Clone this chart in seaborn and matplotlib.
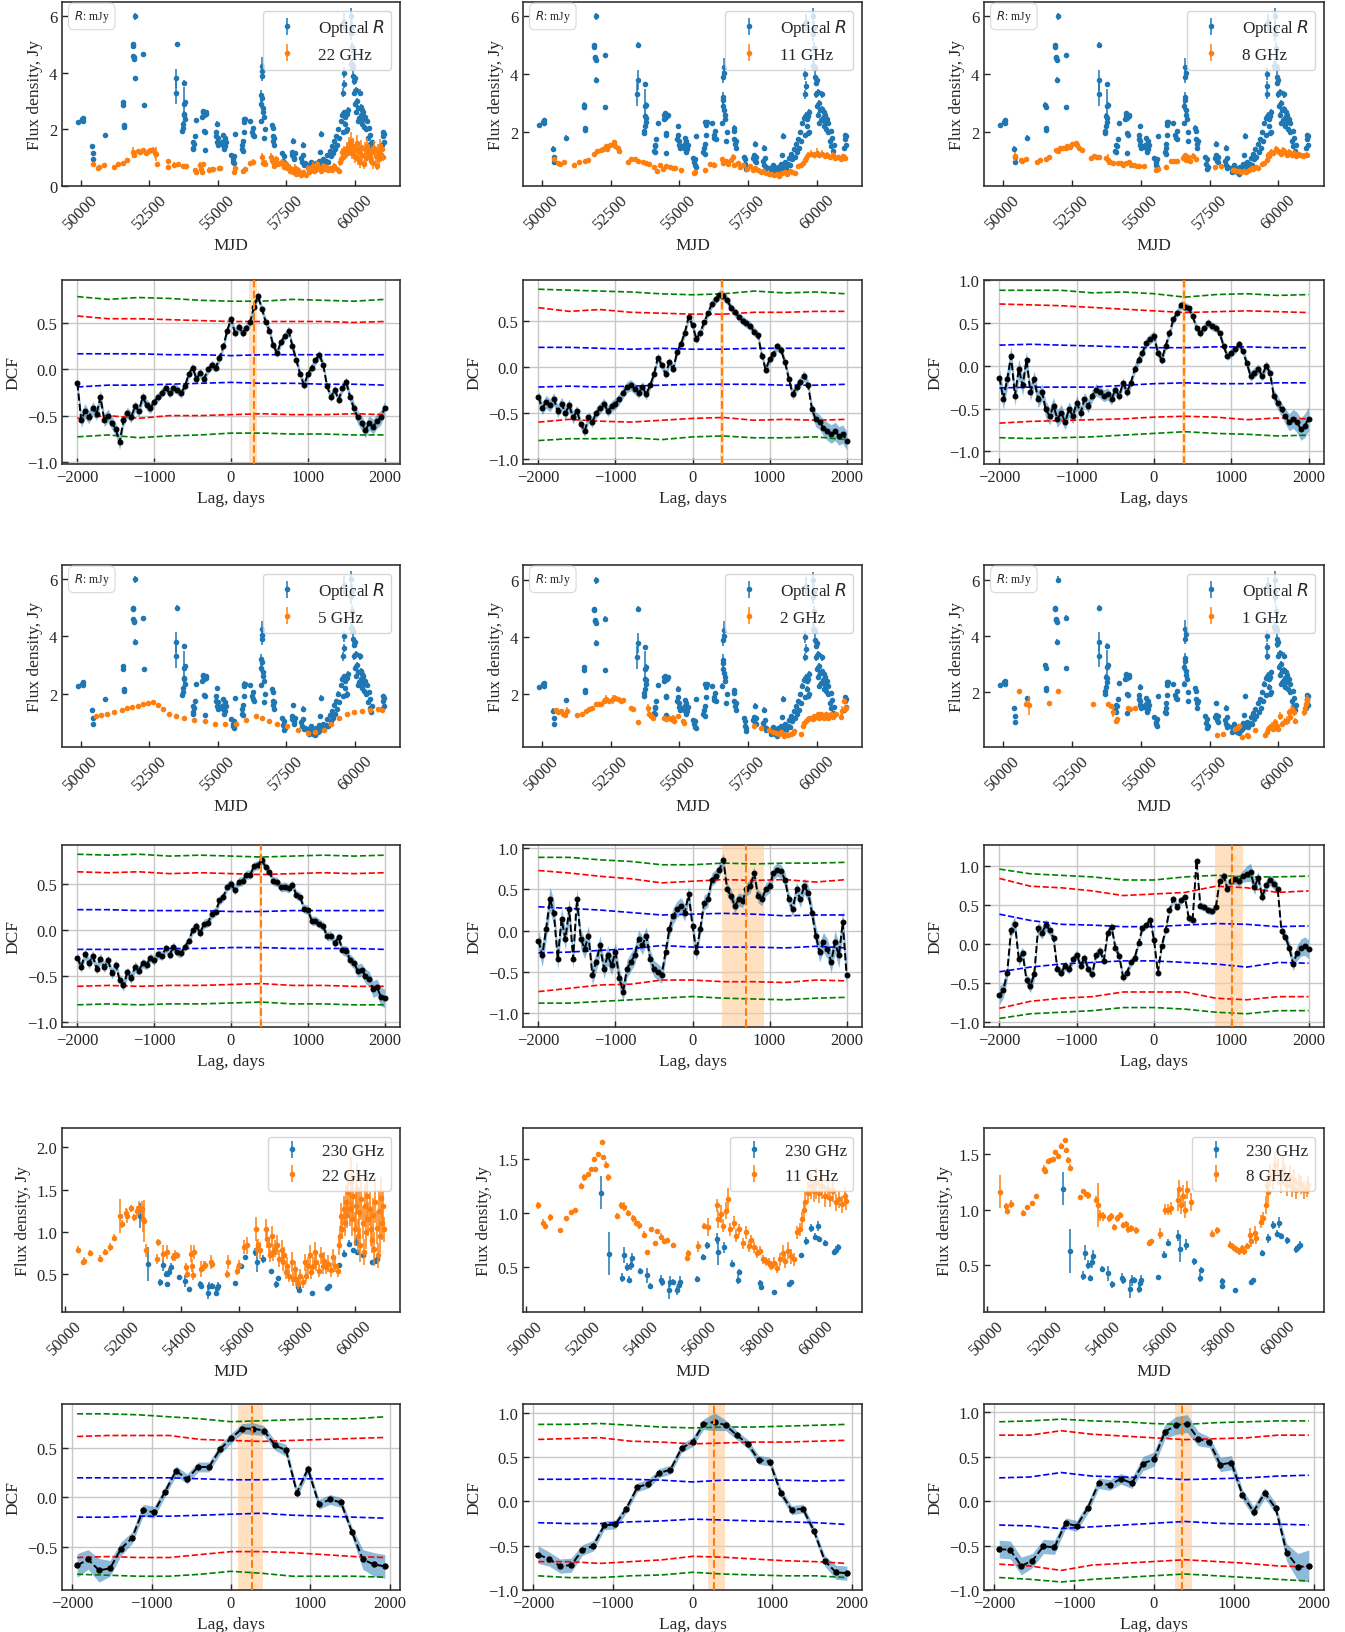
import numpy as np
import matplotlib
matplotlib.use("Agg")
import matplotlib.pyplot as plt
import seaborn as sns
from matplotlib.ticker import MultipleLocator

sns.set_style("ticks")
plt.rcParams.update({
    "mathtext.fontset": "dejavusans",
    "axes.linewidth": 1.2,
    "axes.edgecolor": "0.2",
    "xtick.direction": "in",
    "ytick.direction": "in",
    "xtick.labelsize": 12,
    "ytick.labelsize": 12,
    "axes.labelsize": 12.5,
    "legend.fontsize": 12.3,
})
plt.rcParams["font.family"] = ["Liberation Serif", "DejaVu Serif"]

# ---------------- light curves ----------------
opt_mjd = [49880, 50040, 50068, 50080, 50420, 50434, 50450, 50883, 51540, 51551,
           51560, 51570, 51890, 51900, 51920, 51940, 51960, 51975, 51985, 52282,
           52300, 53480, 53490, 53500, 53700, 53720, 53740, 53750, 53760, 53770,
           53780, 53790, 53800, 54080, 54100, 54110, 54130, 54160, 54213, 54430,
           54450, 54470, 54490, 54510, 54520, 54530, 54560, 54580, 54930, 54950,
           54960, 54975, 54990, 55010, 55170, 55190, 55200, 55220, 55240, 55260,
           55280, 55310, 55500, 55540, 55560, 55580, 55600, 55620, 55880, 55900,
           55920, 55935, 55950, 55960, 55970, 56000, 56180, 56250, 56280, 56300,
           56320, 56560, 56580, 56590, 56600, 56610, 56620, 56630, 56640, 56650,
           56670, 56700, 56730, 56980, 57000, 57010, 57030, 57050, 57070, 57350,
           57380, 57400, 57420, 57440, 57700, 57720, 57750, 57770, 57790, 57810,
           58050, 58080, 58100, 58120, 58140, 58170, 58300, 58330, 58366, 58400,
           58440, 58480, 58520, 58560, 58600, 58640, 58680, 58710, 58731, 58750,
           58770, 58800, 58840, 58880, 58950, 59000, 59040, 59080, 59120, 59160,
           59200, 59240, 59280, 59320, 59360, 59400, 59440, 59480, 59540, 59560,
           59580, 59590, 59600, 59610, 59620, 59640, 59660, 59680, 59700, 59720,
           59740, 59850, 59865, 59880, 59890, 59900, 59915, 59930, 59945, 59960,
           59980, 60000, 60020, 60040, 60060, 60080, 60100, 60120, 60160, 60190,
           60210, 60230, 60250, 60270, 60290, 60310, 60340, 60370, 60400, 60430,
           60480, 60510, 60540, 60570, 60600, 60630, 61000, 61020, 61040, 61060,
           61080]
opt_flux = [2.25, 2.35, 2.40, 2.30, 1.42, 1.15, 0.95, 1.80, 2.95, 2.85,
            2.15, 2.08, 5.00, 4.95, 4.60, 4.55, 4.50, 3.80, 6.00, 4.65,
            2.85, 3.30, 3.80, 5.00, 1.95, 2.05, 2.20, 2.55, 2.90, 3.65,
            2.50, 2.35, 2.95, 1.35, 1.55, 1.30, 1.50, 1.75, 2.32, 2.45,
            2.60, 2.65, 2.50, 1.95, 1.26, 1.90, 2.55, 2.60, 1.75, 1.90,
            2.20, 1.55, 1.70, 1.45, 1.55, 1.45, 1.80, 1.60, 1.30, 1.70,
            1.40, 1.55, 1.10, 0.95, 0.85, 1.05, 0.80, 1.85, 1.30, 1.45,
            1.60, 1.25, 2.35, 2.25, 1.90, 2.35, 2.30, 1.90, 1.80, 2.05,
            1.75, 2.30, 2.90, 3.20, 3.10, 3.90, 4.25, 4.05, 2.75, 2.60,
            2.45, 1.70, 2.00, 2.15, 1.75, 2.05, 1.60, 1.45, 1.70, 1.15,
            0.90, 1.05, 0.72, 0.80, 1.10, 1.20, 1.60, 1.00, 0.95, 1.15,
            1.00, 0.85, 1.45, 1.10, 0.75, 0.80, 0.75, 0.60, 0.65, 0.85,
            0.70, 0.60, 0.75, 0.55, 0.80, 0.65, 0.70, 0.90, 1.20, 0.75,
            1.85, 0.85, 0.95, 0.75, 0.90, 1.10, 0.85, 1.25, 1.05, 1.40,
            1.15, 1.60, 1.30, 1.75, 1.45, 2.00, 1.70, 2.30, 2.50, 1.90,
            3.30, 4.00, 3.60, 5.80, 2.60, 2.20, 2.45, 1.95, 2.55, 2.00,
            2.70, 4.30, 5.40, 6.00, 5.60, 4.90, 4.30, 3.90, 4.20, 3.70,
            3.30, 3.80, 2.90, 3.40, 2.60, 3.00, 2.30, 2.75, 2.40, 3.30,
            2.80, 2.50, 2.20, 2.70, 2.35, 2.60, 2.10, 2.45, 2.00, 2.30,
            1.70, 2.05, 1.50, 1.80, 1.35, 1.55, 1.45, 1.90, 1.75, 1.55,
            1.85]
opt_err = [0.05, 0.05, 0.05, 0.05, 0.08, 0.05, 0.05, 0.08, 0.08, 0.06,
           0.06, 0.06, 0.06, 0.06, 0.06, 0.06, 0.06, 0.10, 0.12, 0.08,
           0.05, 0.40, 0.35, 0.10, 0.06, 0.06, 0.08, 0.10, 0.60, 0.08,
           0.10, 0.08, 0.10, 0.05, 0.05, 0.05, 0.05, 0.05, 0.05, 0.06,
           0.06, 0.06, 0.06, 0.06, 0.05, 0.05, 0.06, 0.06, 0.06, 0.06,
           0.08, 0.05, 0.05, 0.05, 0.05, 0.05, 0.05, 0.05, 0.05, 0.05,
           0.05, 0.05, 0.05, 0.05, 0.05, 0.05, 0.05, 0.06, 0.05, 0.05,
           0.05, 0.05, 0.08, 0.08, 0.06, 0.06, 0.05, 0.05, 0.05, 0.05,
           0.05, 0.08, 0.15, 0.20, 0.15, 0.20, 0.30, 0.15, 0.15, 0.10,
           0.10, 0.05, 0.05, 0.08, 0.05, 0.06, 0.05, 0.05, 0.05, 0.05,
           0.05, 0.05, 0.05, 0.05, 0.05, 0.05, 0.08, 0.05, 0.05, 0.05,
           0.05, 0.05, 0.10, 0.05, 0.05, 0.05, 0.04, 0.04, 0.04, 0.04,
           0.04, 0.04, 0.04, 0.04, 0.04, 0.04, 0.04, 0.05, 0.06, 0.04,
           0.10, 0.05, 0.05, 0.05, 0.05, 0.05, 0.05, 0.06, 0.05, 0.06,
           0.05, 0.06, 0.05, 0.06, 0.06, 0.08, 0.06, 0.08, 0.10, 0.08,
           0.15, 0.20, 0.15, 0.30, 0.10, 0.08, 0.08, 0.08, 0.10, 0.08,
           0.10, 0.20, 0.25, 0.30, 0.25, 0.20, 0.15, 0.15, 0.15, 0.12,
           0.12, 0.12, 0.10, 0.10, 0.10, 0.10, 0.08, 0.10, 0.08, 0.12,
           0.10, 0.08, 0.08, 0.10, 0.08, 0.08, 0.08, 0.08, 0.06, 0.08,
           0.06, 0.06, 0.06, 0.06, 0.05, 0.05, 0.05, 0.06, 0.05, 0.05,
           0.06]

r22_mjd = [50443, 50617, 50660, 50849, 51198, 51373, 51547, 51687, 51896, 51954,
           52094, 52150, 52280, 52373, 52479, 52540, 52652, 52700, 52740, 52792,
           53176, 53200, 53398, 53530, 53734, 53790, 53850, 54165, 54200, 54340,
           54380, 54430, 54470, 54689, 54790, 54840, 55038, 55080, 55584, 55620,
           55933, 56000, 56166, 56280, 56607, 56640, 56680, 56740, 56956, 56990,
           57030, 57070, 57140, 57200, 57260, 57330, 57400, 57480, 57520, 57570,
           57620, 57680, 57740, 57829, 57870, 57940, 57990, 58030, 58100, 58236,
           58280, 58340, 58400, 58460, 58500, 58560, 58620, 58680, 58759, 58830,
           58900, 58960, 59020, 59100, 59180, 59260, 59340, 59434, 59470, 59500,
           59540, 59580, 59620, 59660, 59700, 59740, 59790, 59830, 59866, 59900,
           59950, 60000, 60040, 60080, 60120, 60160, 60200, 60240, 60280, 60320,
           60360, 60400, 60440, 60480, 60520, 60560, 60600, 60640, 60680, 60720,
           60760, 60800, 60840, 60880, 60920, 60960, 61000, 61028]
r22_flux = [0.79, 0.64, 0.66, 0.75, 0.68, 0.76, 0.82, 0.93, 1.19, 1.09,
            1.22, 1.19, 1.28, 1.17, 1.25, 1.28, 1.27, 1.15, 1.13, 0.78,
            0.68, 0.875, 0.74, 0.76, 0.70, 0.72, 0.72, 0.58, 0.50, 0.74,
            0.60, 0.49, 0.76, 0.56, 0.60, 0.61, 0.64, 0.62, 0.50, 0.64,
            0.54, 0.61, 0.82, 0.84, 1.03, 0.80, 0.84, 0.78, 1.03, 0.91,
            0.84, 0.72, 0.95, 0.76, 0.80, 0.84, 0.68, 0.78, 0.64, 0.72,
            0.52, 0.60, 0.48, 0.64, 0.44, 0.56, 0.44, 0.38, 0.48, 0.40,
            0.64, 0.48, 0.60, 0.72, 0.52, 0.60, 0.76, 0.64, 0.54, 0.72,
            0.60, 0.66, 0.58, 0.62, 0.55, 0.70, 0.60, 0.54, 0.84, 0.95,
            1.19, 1.03, 1.27, 1.10, 1.35, 1.20, 1.47, 1.27, 1.59, 1.15,
            1.43, 1.03, 1.31, 1.51, 0.95, 1.23, 0.84, 1.39, 1.11, 0.76,
            1.31, 1.00, 1.43, 1.15, 1.27, 1.03, 0.90, 1.20, 0.80, 1.35,
            1.05, 0.72, 1.25, 0.95, 1.40, 1.10, 1.30, 1.03]
r22_err = [0.04, 0.03, 0.04, 0.03, 0.04, 0.04, 0.05, 0.04, 0.20, 0.05,
           0.06, 0.08, 0.04, 0.04, 0.06, 0.08, 0.10, 0.15, 0.25, 0.08,
           0.06, 0.04, 0.10, 0.08, 0.05, 0.06, 0.04, 0.05, 0.05, 0.10,
           0.08, 0.06, 0.08, 0.10, 0.06, 0.05, 0.08, 0.05, 0.05, 0.08,
           0.05, 0.06, 0.08, 0.10, 0.14, 0.10, 0.08, 0.10, 0.12, 0.10,
           0.10, 0.08, 0.12, 0.10, 0.10, 0.12, 0.10, 0.12, 0.10, 0.10,
           0.08, 0.10, 0.08, 0.12, 0.08, 0.10, 0.08, 0.06, 0.08, 0.06,
           0.10, 0.08, 0.10, 0.12, 0.08, 0.10, 0.12, 0.10, 0.08, 0.10,
           0.10, 0.10, 0.08, 0.10, 0.08, 0.10, 0.08, 0.08, 0.12, 0.12,
           0.15, 0.12, 0.15, 0.15, 0.20, 0.15, 0.25, 0.20, 0.30, 0.20,
           0.25, 0.20, 0.25, 0.30, 0.20, 0.25, 0.20, 0.25, 0.20, 0.15,
           0.25, 0.20, 0.25, 0.20, 0.20, 0.20, 0.15, 0.20, 0.20, 0.25,
           0.20, 0.15, 0.25, 0.20, 0.25, 0.20, 0.20, 0.15]

r11_mjd = [50427, 50583, 50650, 50816, 51165, 51359, 51553, 51689, 51903, 52000,
           52136, 52233, 52330, 52380, 52485, 52621, 52660, 52757, 52815, 53146,
           53262, 53380, 53495, 53689, 53780, 53883, 54078, 54175, 54311, 54427,
           54500, 54660, 54757, 54850, 55049, 55534, 55590, 55922, 56117, 56272,
           56563, 56600, 56699, 56790, 56893, 56950, 57010, 57146, 57220, 57330,
           57476, 57570, 57670, 57760, 57864, 57960, 58058, 58150, 58253, 58350,
           58447, 58540, 58641, 58740, 58835, 58930, 59029, 59120, 59223, 59320,
           59420, 59515, 59560, 59612, 59700, 59806, 59900, 60000, 60100, 60194,
           60290, 60388, 60480, 60583, 60680, 60777, 60870, 60971, 61020]
r11_flux = [1.07, 0.91, 0.88, 0.96, 0.84, 0.95, 1.01, 1.03, 1.25, 1.33,
            1.36, 1.41, 1.50, 1.41, 1.55, 1.66, 1.52, 1.45, 1.33, 0.97,
            1.07, 1.06, 1.00, 0.95, 0.91, 0.89, 0.80, 0.64, 0.85, 0.72,
            0.83, 0.78, 0.74, 0.75, 0.70, 0.58, 0.63, 0.69, 0.88, 0.87,
            1.07, 0.94, 0.99, 0.88, 1.02, 1.13, 0.85, 0.91, 0.79, 0.85,
            0.72, 0.82, 0.69, 0.75, 0.68, 0.63, 0.65, 0.57, 0.55, 0.54,
            0.51, 0.54, 0.49, 0.57, 0.63, 0.55, 0.65, 0.60, 0.57, 0.82,
            0.85, 0.94, 1.03, 1.10, 1.19, 1.25, 1.20, 1.28, 1.19, 1.25,
            1.16, 1.22, 1.14, 1.20, 1.10, 1.13, 1.08, 1.16, 1.11]
r11_err = [0.03, 0.03, 0.03, 0.03, 0.02, 0.02, 0.02, 0.02, 0.03, 0.03,
           0.02, 0.02, 0.02, 0.02, 0.02, 0.02, 0.02, 0.03, 0.03, 0.03,
           0.03, 0.04, 0.03, 0.03, 0.03, 0.04, 0.03, 0.02, 0.02, 0.02,
           0.02, 0.03, 0.02, 0.02, 0.02, 0.03, 0.03, 0.05, 0.03, 0.08,
           0.06, 0.08, 0.08, 0.06, 0.08, 0.10, 0.06, 0.06, 0.06, 0.05,
           0.05, 0.06, 0.05, 0.05, 0.05, 0.05, 0.04, 0.04, 0.04, 0.04,
           0.04, 0.05, 0.05, 0.06, 0.07, 0.06, 0.08, 0.07, 0.06, 0.06,
           0.06, 0.07, 0.08, 0.10, 0.10, 0.12, 0.10, 0.15, 0.10, 0.12,
           0.10, 0.10, 0.08, 0.10, 0.08, 0.08, 0.08, 0.08, 0.08]

r8_mjd = [50447, 50641, 50700, 50835, 51223, 51359, 51553, 51689, 51942, 51990,
          52078, 52170, 52272, 52330, 52420, 52524, 52660, 52700, 52777, 52855,
          53204, 53301, 53398, 53480, 53748, 53825, 53883, 53980, 54175, 54270,
          54369, 54470, 54563, 54660, 54757, 54850, 54951, 55107, 55573, 55620,
          55922, 56117, 56200, 56311, 56544, 56600, 56660, 56720, 56796, 56880,
          56990, 57709, 57903, 58350, 58400, 58485, 58560, 58641, 58740, 58835,
          58930, 59029, 59080, 59184, 59240, 59417, 59480, 59573, 59610, 59650,
          59730, 59806, 59900, 60000, 60080, 60155, 60220, 60291, 60390, 60485,
          60550, 60621, 60700, 60777, 60880, 60971, 61030]
r8_flux = [1.16, 1.03, 0.99, 1.05, 0.97, 1.02, 1.06, 1.12, 1.37, 1.35,
           1.44, 1.45, 1.46, 1.52, 1.49, 1.58, 1.63, 1.54, 1.45, 1.38,
           1.11, 1.17, 1.14, 1.13, 1.09, 1.04, 0.95, 0.94, 0.92, 0.94,
           0.84, 0.92, 0.95, 0.86, 0.87, 0.82, 0.83, 0.81, 0.70, 0.71,
           0.78, 1.00, 1.00, 1.01, 1.09, 1.19, 1.04, 1.12, 1.00, 1.18,
           1.07, 0.78, 0.81, 0.68, 0.67, 0.65, 0.64, 0.62, 0.65, 0.62,
           0.67, 0.77, 0.71, 0.79, 0.74, 0.89, 0.92, 1.04, 1.22, 1.16,
           1.31, 1.28, 1.40, 1.34, 1.25, 1.37, 1.31, 1.22, 1.30, 1.19,
           1.27, 1.18, 1.24, 1.22, 1.18, 1.19, 1.22]
r8_err = [0.15, 0.03, 0.03, 0.04, 0.03, 0.02, 0.02, 0.02, 0.03, 0.03,
          0.02, 0.02, 0.02, 0.02, 0.02, 0.02, 0.02, 0.02, 0.03, 0.03,
          0.02, 0.02, 0.02, 0.03, 0.03, 0.20, 0.05, 0.04, 0.03, 0.03,
          0.03, 0.03, 0.03, 0.03, 0.03, 0.03, 0.03, 0.03, 0.02, 0.02,
          0.05, 0.05, 0.05, 0.06, 0.10, 0.08, 0.08, 0.10, 0.08, 0.08,
          0.08, 0.03, 0.03, 0.03, 0.03, 0.03, 0.03, 0.03, 0.03, 0.03,
          0.03, 0.06, 0.05, 0.06, 0.05, 0.06, 0.06, 0.08, 0.10, 0.10,
          0.10, 0.10, 0.12, 0.12, 0.10, 0.12, 0.10, 0.10, 0.10, 0.08,
          0.10, 0.08, 0.08, 0.08, 0.08, 0.08, 0.08]

r5_mjd = [50565, 50750, 50943, 51200, 51508, 51700, 51885, 52100, 52262, 52450,
          52640, 52830, 53016, 53205, 53470, 53770, 54150, 54524, 54900, 55278,
          55655, 56032, 56409, 56600, 56860, 57163, 57540, 57917, 58294, 58560,
          58860, 59123, 59425, 59727, 59990, 60254, 60556, 60858, 61000]
r5_flux = [1.20, 1.24, 1.28, 1.35, 1.42, 1.48, 1.53, 1.58, 1.64, 1.68,
           1.71, 1.60, 1.46, 1.28, 1.20, 1.13, 1.06, 1.03, 0.95, 0.92,
           0.95, 1.06, 1.20, 1.13, 1.03, 0.95, 0.85, 0.74, 0.63, 0.67,
           0.74, 0.92, 1.13, 1.28, 1.35, 1.39, 1.42, 1.46, 1.42]
r5_err = [0.04, 0.04, 0.04, 0.04, 0.04, 0.04, 0.04, 0.04, 0.04, 0.04,
          0.04, 0.04, 0.04, 0.04, 0.04, 0.04, 0.04, 0.04, 0.04, 0.04,
          0.04, 0.04, 0.04, 0.04, 0.04, 0.04, 0.04, 0.04, 0.04, 0.04,
          0.04, 0.04, 0.04, 0.04, 0.04, 0.04, 0.04, 0.04, 0.04]

r2_mjd = [50497, 50580, 50700, 50764, 50830, 50915, 51273, 51467, 51612, 51700,
          51830, 51976, 52070, 52157, 52279, 52340, 52460, 52582, 52680, 52763,
          52880, 52945, 53248, 53330, 53490, 53854, 53890, 53970, 54036, 54460,
          54520, 54620, 54702, 54760, 54820, 54945, 55127, 55190, 57733, 57976,
          58278, 58400, 58520, 58640, 58700, 58824, 58880, 58940, 59066, 59130,
          59190, 59430, 59490, 59551, 59610, 59672, 59730, 59793, 59850, 59914,
          59975, 60035, 60095, 60157, 60220, 60278, 60340, 60399, 60460, 60520,
          60580, 60642, 60700, 60884, 60940, 61005, 61030, 61054]
r2_flux = [1.44, 1.39, 1.42, 1.32, 1.27, 1.42, 1.26, 1.32, 1.42, 1.47,
           1.50, 1.65, 1.67, 1.65, 1.77, 1.82, 1.77, 1.82, 1.86, 1.82,
           1.77, 1.79, 1.51, 1.47, 1.04, 1.51, 1.32, 1.24, 1.18, 1.15,
           1.12, 1.16, 1.12, 1.18, 1.06, 1.22, 1.06, 1.00, 0.89, 0.81,
           0.74, 0.69, 0.65, 0.60, 0.69, 0.54, 0.62, 0.57, 0.62, 0.65,
           0.71, 0.60, 0.89, 1.00, 1.06, 1.12, 1.16, 1.18, 1.12, 1.24,
           1.20, 1.30, 1.18, 1.32, 1.24, 1.18, 1.30, 1.16, 1.24, 1.30,
           1.20, 1.27, 1.32, 1.20, 1.42, 1.77, 1.47, 1.53]
r2_err = [0.05, 0.05, 0.05, 0.10, 0.05, 0.12, 0.08, 0.05, 0.05, 0.05,
          0.05, 0.05, 0.05, 0.05, 0.10, 0.15, 0.05, 0.15, 0.10, 0.05,
          0.05, 0.05, 0.05, 0.05, 0.05, 0.15, 0.08, 0.08, 0.05, 0.05,
          0.05, 0.08, 0.10, 0.08, 0.05, 0.10, 0.05, 0.05, 0.05, 0.05,
          0.05, 0.04, 0.04, 0.04, 0.04, 0.04, 0.04, 0.04, 0.04, 0.04,
          0.04, 0.04, 0.05, 0.05, 0.06, 0.06, 0.06, 0.06, 0.06, 0.06,
          0.06, 0.06, 0.06, 0.06, 0.06, 0.06, 0.06, 0.06, 0.06, 0.06,
          0.06, 0.06, 0.06, 0.10, 0.15, 0.10, 0.10, 0.10]

r1_mjd = [50570, 50824, 50945, 51673, 52012, 53273, 53818, 53940, 54000, 54121,
          54140, 54545, 54600, 54788, 57757, 57976, 58424, 58484, 58581, 58666,
          58848, 58909, 59151, 59514, 59575, 59636, 59697, 59757, 59818, 59878,
          59939, 60000, 60060, 60121, 60240, 60302, 60363, 60424, 60484, 60545,
          60606, 60908, 60960, 60995, 61030, 61050]
r1_flux = [2.03, 1.57, 1.53, 1.63, 2.03, 1.57, 1.57, 1.51, 1.30, 0.99,
           1.05, 1.45, 1.39, 1.45, 0.48, 0.52, 0.69, 0.72, 0.81, 0.40,
           0.48, 0.44, 0.64, 0.46, 0.58, 0.69, 0.75, 0.81, 0.69, 0.93,
           0.81, 0.69, 1.16, 0.87, 0.96, 0.99, 1.28, 1.10, 1.39, 1.28,
           0.99, 1.28, 1.45, 1.57, 1.74, 1.69]
r1_err = [0.04, 0.10, 0.35, 0.03, 0.05, 0.03, 0.03, 0.05, 0.20, 0.05,
          0.05, 0.06, 0.05, 0.06, 0.03, 0.03, 0.03, 0.03, 0.03, 0.03,
          0.03, 0.03, 0.04, 0.10, 0.10, 0.12, 0.10, 0.12, 0.10, 0.10,
          0.12, 0.10, 0.15, 0.12, 0.12, 0.15, 0.12, 0.12, 0.15, 0.12,
          0.10, 0.12, 0.15, 0.15, 0.15, 0.12]

r230_mjd = [52594, 52851, 53292, 53380, 53480, 53530, 53600, 53650, 53933, 54150,
            54282, 54650, 54680, 54921, 54960, 55060, 55210, 55260, 55300, 55875,
            56084, 56230, 56572, 56620, 56830, 57100, 57300, 57340, 58062, 58080,
            58527, 59050, 59130, 59458, 59630, 59808, 59960, 60040, 60090, 60306,
            60620, 60690, 60760]
r230_flux = [1.19, 0.62, 0.40, 0.61, 0.50, 0.38, 0.52, 0.58, 0.46, 0.42,
             0.32, 0.38, 0.36, 0.28, 0.36, 0.36, 0.28, 0.33, 0.36, 0.39,
             0.59, 0.70, 0.76, 0.64, 0.68, 0.53, 0.38, 0.45, 0.35, 0.31,
             0.27, 0.34, 0.36, 0.61, 0.74, 0.86, 0.78, 0.88, 0.76, 0.72,
             0.64, 0.66, 0.68]
r230_err = [0.15, 0.20, 0.04, 0.07, 0.04, 0.03, 0.05, 0.05, 0.03, 0.07,
            0.03, 0.04, 0.04, 0.08, 0.05, 0.03, 0.04, 0.04, 0.05, 0.02,
            0.03, 0.03, 0.05, 0.12, 0.05, 0.03, 0.04, 0.03, 0.03, 0.02,
            0.01, 0.02, 0.02, 0.02, 0.04, 0.04, 0.03, 0.05, 0.03, 0.03,
            0.03, 0.03, 0.03]

# ---------------- DCF curves ----------------
lag_dense = np.arange(-2000, 2001, 50)
lag_sparse = [-1937, -1799, -1660, -1522, -1384, -1245, -1107, -968, -830, -692,
              -553, -415, -277, -138, 0, 138, 277, 415, 553, 692,
              830, 968, 1107, 1245, 1384, 1522, 1660, 1799, 1937]
sig_lag_dense = [-2000, -1600, -1200, -800, -400, 0, 400, 800, 1200, 1600, 2000]
sig_lag_sparse = [-1937, -1550, -1162, -775, -387, 0, 387, 775, 1162, 1550, 1937]

dcf_22 = [-0.15, -0.55, -0.45, -0.52, -0.42, -0.48, -0.30, -0.55, -0.50, -0.58,
          -0.65, -0.79, -0.55, -0.47, -0.52, -0.40, -0.45, -0.30, -0.38, -0.42,
          -0.35, -0.30, -0.25, -0.20, -0.26, -0.20, -0.22, -0.26, -0.18, -0.05,
          0.02, -0.10, -0.04, -0.10, 0.00, 0.05, 0.02, 0.12, 0.25, 0.42,
          0.55, 0.40, 0.46, 0.40, 0.45, 0.52, 0.68, 0.80, 0.66, 0.52,
          0.42, 0.26, 0.18, 0.30, 0.36, 0.42, 0.25, 0.10, -0.05, -0.17,
          -0.05, 0.02, 0.10, 0.16, 0.05, -0.18, -0.30, -0.22, -0.33, -0.20,
          -0.14, -0.30, -0.42, -0.52, -0.58, -0.66, -0.58, -0.62, -0.56, -0.52,
          -0.42]
dcf_11 = [-0.33, -0.45, -0.38, -0.42, -0.35, -0.48, -0.40, -0.50, -0.42, -0.55,
          -0.48, -0.62, -0.70, -0.55, -0.60, -0.50, -0.45, -0.40, -0.48, -0.43,
          -0.40, -0.35, -0.28, -0.22, -0.20, -0.24, -0.28, -0.22, -0.30, -0.20,
          -0.08, 0.10, 0.02, -0.08, 0.05, -0.02, 0.16, 0.25, 0.37, 0.54,
          0.45, 0.30, 0.37, 0.48, 0.58, 0.68, 0.73, 0.78, 0.77, 0.72,
          0.64, 0.59, 0.54, 0.50, 0.47, 0.44, 0.38, 0.34, 0.12, -0.03,
          0.08, 0.14, 0.22, 0.18, 0.05, -0.13, -0.30, -0.22, -0.16, -0.10,
          -0.20, -0.46, -0.57, -0.60, -0.66, -0.70, -0.73, -0.70, -0.75, -0.73,
          -0.80]
dcf_8 = [-0.14, -0.39, -0.16, 0.11, -0.35, -0.04, -0.23, 0.07, -0.31, -0.16,
         -0.39, -0.31, -0.51, -0.59, -0.47, -0.62, -0.55, -0.66, -0.51, -0.59,
         -0.43, -0.55, -0.39, -0.47, -0.35, -0.28, -0.31, -0.35, -0.33, -0.39,
         -0.28, -0.35, -0.20, -0.31, -0.20, -0.04, 0.07, 0.15, 0.27, 0.31,
         0.35, 0.15, 0.07, 0.23, 0.38, 0.54, 0.62, 0.71, 0.69, 0.67,
         0.58, 0.44, 0.38, 0.44, 0.50, 0.46, 0.44, 0.38, 0.23, 0.11,
         0.15, 0.19, 0.25, 0.17, 0.03, -0.12, -0.08, -0.04, -0.12, 0.00,
         -0.08, -0.35, -0.43, -0.51, -0.59, -0.66, -0.62, -0.66, -0.74, -0.70,
         -0.62]
dcf_5 = [-0.30, -0.40, -0.26, -0.36, -0.28, -0.42, -0.31, -0.40, -0.33, -0.47,
         -0.38, -0.54, -0.60, -0.46, -0.52, -0.40, -0.44, -0.36, -0.38, -0.30,
         -0.33, -0.26, -0.28, -0.20, -0.27, -0.18, -0.24, -0.25, -0.18, -0.12,
         0.00, 0.04, -0.03, 0.07, 0.08, 0.17, 0.20, 0.32, 0.36, 0.47,
         0.50, 0.43, 0.52, 0.53, 0.60, 0.60, 0.69, 0.70, 0.76, 0.68,
         0.63, 0.53, 0.52, 0.46, 0.47, 0.45, 0.49, 0.38, 0.36, 0.23,
         0.22, 0.10, 0.10, 0.07, 0.04, -0.07, -0.06, -0.14, -0.08, -0.22,
         -0.23, -0.32, -0.36, -0.44, -0.43, -0.50, -0.53, -0.64, -0.62, -0.72,
         -0.74]
dcf_2 = [-0.12, -0.30, 0.02, 0.38, 0.22, -0.34, 0.14, -0.10, 0.26, -0.34,
         0.38, -0.10, -0.22, -0.06, -0.54, -0.38, -0.18, -0.46, -0.30, -0.42,
         -0.26, -0.58, -0.74, -0.46, -0.38, -0.30, -0.10, -0.18, -0.06, -0.34,
         -0.46, -0.50, -0.54, -0.26, 0.02, 0.18, 0.26, 0.30, 0.22, 0.44,
         0.06, -0.26, 0.02, 0.34, 0.38, 0.62, 0.66, 0.74, 0.86, 0.50,
         0.42, 0.30, 0.38, 0.36, 0.50, 0.54, 0.70, 0.42, 0.38, 0.50,
         0.54, 0.70, 0.74, 0.72, 0.62, 0.38, 0.26, 0.50, 0.38, 0.54,
         0.46, 0.22, -0.06, -0.26, -0.14, -0.22, -0.38, -0.14, -0.30, 0.10,
         -0.54]
dcf_1 = [-0.66, -0.60, -0.37, 0.18, 0.26, -0.20, -0.12, -0.47, -0.54, -0.39,
         0.20, 0.14, 0.24, 0.18, 0.07, -0.33, -0.37, -0.28, -0.33, -0.20,
         -0.14, -0.28, -0.18, -0.33, -0.39, -0.14, -0.09, -0.22, 0.14, 0.22,
         -0.05, -0.16, -0.43, -0.37, -0.24, -0.18, 0.01, 0.20, 0.24, 0.31,
         0.05, -0.37, -0.03, 0.18, 0.43, 0.58, 0.47, 0.56, 0.60, 0.33,
         0.31, 1.07, 0.49, 0.47, 0.43, 0.42, 0.47, 0.81, 0.87, 0.71,
         0.81, 0.83, 0.81, 0.87, 0.90, 0.92, 0.73, 0.85, 0.60, 0.75,
         0.82, 0.77, 0.71, 0.16, 0.09, -0.05, -0.26, -0.12, -0.05, -0.03,
         -0.07]

err_22 = [0.06, 0.08, 0.08, 0.07, 0.07, 0.07, 0.08, 0.07, 0.07, 0.07,
          0.07, 0.08, 0.07, 0.06, 0.06, 0.06, 0.06, 0.06, 0.06, 0.06,
          0.05, 0.05, 0.05, 0.05, 0.05, 0.05, 0.05, 0.05, 0.05, 0.05,
          0.05, 0.05, 0.05, 0.05, 0.05, 0.05, 0.05, 0.05, 0.05, 0.05,
          0.05, 0.05, 0.05, 0.05, 0.05, 0.05, 0.05, 0.05, 0.05, 0.05,
          0.05, 0.05, 0.05, 0.05, 0.05, 0.05, 0.05, 0.05, 0.05, 0.05,
          0.05, 0.05, 0.05, 0.05, 0.05, 0.05, 0.05, 0.05, 0.05, 0.05,
          0.06, 0.06, 0.07, 0.07, 0.08, 0.08, 0.08, 0.08, 0.08, 0.08,
          0.08]
err_11 = [0.07, 0.07, 0.07, 0.07, 0.07, 0.07, 0.07, 0.07, 0.07, 0.07,
          0.06, 0.06, 0.06, 0.06, 0.06, 0.06, 0.06, 0.06, 0.06, 0.06,
          0.06, 0.06, 0.06, 0.06, 0.06, 0.06, 0.06, 0.06, 0.06, 0.05,
          0.05, 0.05, 0.05, 0.05, 0.05, 0.05, 0.05, 0.05, 0.05, 0.05,
          0.05, 0.05, 0.05, 0.05, 0.05, 0.05, 0.05, 0.05, 0.05, 0.05,
          0.05, 0.05, 0.05, 0.05, 0.05, 0.05, 0.05, 0.05, 0.05, 0.05,
          0.05, 0.05, 0.05, 0.05, 0.05, 0.06, 0.06, 0.06, 0.06, 0.06,
          0.06, 0.07, 0.08, 0.08, 0.09, 0.10, 0.10, 0.10, 0.10, 0.10,
          0.10]
err_8 = [0.10, 0.12, 0.12, 0.12, 0.12, 0.12, 0.12, 0.10, 0.10, 0.10,
         0.10, 0.10, 0.10, 0.10, 0.10, 0.10, 0.10, 0.09, 0.09, 0.09,
         0.08, 0.08, 0.08, 0.08, 0.07, 0.07, 0.07, 0.07, 0.07, 0.07,
         0.06, 0.06, 0.06, 0.06, 0.06, 0.06, 0.06, 0.06, 0.06, 0.06,
         0.06, 0.06, 0.06, 0.06, 0.05, 0.05, 0.05, 0.05, 0.05, 0.05,
         0.05, 0.05, 0.05, 0.05, 0.05, 0.05, 0.05, 0.05, 0.05, 0.05,
         0.05, 0.05, 0.05, 0.05, 0.06, 0.06, 0.06, 0.06, 0.06, 0.06,
         0.07, 0.07, 0.08, 0.08, 0.09, 0.10, 0.11, 0.12, 0.13, 0.14,
         0.14]
err_5 = [0.06, 0.06, 0.06, 0.06, 0.06, 0.06, 0.06, 0.06, 0.06, 0.06,
         0.06, 0.06, 0.06, 0.06, 0.06, 0.06, 0.05, 0.05, 0.05, 0.05,
         0.05, 0.05, 0.05, 0.05, 0.05, 0.05, 0.05, 0.05, 0.05, 0.05,
         0.05, 0.05, 0.05, 0.05, 0.05, 0.05, 0.05, 0.05, 0.05, 0.05,
         0.05, 0.05, 0.05, 0.05, 0.05, 0.05, 0.05, 0.05, 0.05, 0.05,
         0.05, 0.05, 0.05, 0.05, 0.05, 0.05, 0.05, 0.05, 0.05, 0.05,
         0.05, 0.05, 0.05, 0.05, 0.05, 0.05, 0.05, 0.05, 0.05, 0.05,
         0.06, 0.06, 0.06, 0.07, 0.07, 0.08, 0.08, 0.09, 0.09, 0.10,
         0.10]
err_2 = [0.12, 0.14, 0.14, 0.15, 0.15, 0.14, 0.14, 0.13, 0.13, 0.13,
         0.13, 0.12, 0.12, 0.12, 0.12, 0.12, 0.12, 0.12, 0.12, 0.12,
         0.12, 0.12, 0.12, 0.11, 0.11, 0.11, 0.11, 0.11, 0.11, 0.11,
         0.10, 0.10, 0.10, 0.10, 0.10, 0.10, 0.10, 0.10, 0.10, 0.10,
         0.10, 0.10, 0.09, 0.09, 0.09, 0.08, 0.08, 0.08, 0.08, 0.08,
         0.08, 0.08, 0.08, 0.08, 0.08, 0.08, 0.08, 0.08, 0.08, 0.08,
         0.08, 0.08, 0.08, 0.08, 0.09, 0.09, 0.09, 0.09, 0.10, 0.10,
         0.10, 0.11, 0.12, 0.12, 0.12, 0.12, 0.13, 0.14, 0.15, 0.16,
         0.16]
err_1 = [0.12, 0.10, 0.10, 0.09, 0.09, 0.08, 0.08, 0.08, 0.09, 0.08,
         0.08, 0.08, 0.08, 0.07, 0.07, 0.06, 0.06, 0.06, 0.06, 0.06,
         0.06, 0.06, 0.06, 0.06, 0.06, 0.06, 0.06, 0.06, 0.06, 0.06,
         0.06, 0.06, 0.06, 0.06, 0.06, 0.05, 0.05, 0.05, 0.05, 0.05,
         0.05, 0.05, 0.05, 0.05, 0.05, 0.05, 0.05, 0.05, 0.05, 0.05,
         0.05, 0.05, 0.05, 0.05, 0.05, 0.05, 0.05, 0.05, 0.06, 0.06,
         0.06, 0.06, 0.07, 0.08, 0.10, 0.12, 0.10, 0.08, 0.07, 0.07,
         0.07, 0.07, 0.07, 0.06, 0.07, 0.08, 0.09, 0.10, 0.11, 0.12,
         0.12]

dcf_230_22 = [-0.69, -0.63, -0.74, -0.72, -0.52, -0.41, -0.13, -0.15, 0.06, 0.27,
              0.19, 0.31, 0.31, 0.49, 0.60, 0.70, 0.70, 0.68, 0.53, 0.48,
              0.05, 0.29, -0.07, -0.02, -0.05, -0.35, -0.63, -0.68, -0.70]
err_230_22 = [0.12, 0.10, 0.12, 0.08, 0.07, 0.06, 0.06, 0.06, 0.05, 0.05,
              0.05, 0.05, 0.05, 0.05, 0.05, 0.05, 0.06, 0.05, 0.05, 0.06,
              0.05, 0.05, 0.05, 0.05, 0.05, 0.05, 0.10, 0.12, 0.12]
dcf_230_11 = [-0.60, -0.65, -0.73, -0.72, -0.55, -0.50, -0.27, -0.26, -0.08, 0.16,
              0.20, 0.32, 0.36, 0.60, 0.67, 0.87, 0.90, 0.86, 0.75, 0.65,
              0.47, 0.45, 0.10, -0.10, -0.08, -0.33, -0.67, -0.80, -0.81]
err_230_11 = [0.10, 0.08, 0.08, 0.08, 0.06, 0.06, 0.05, 0.05, 0.05, 0.05,
              0.05, 0.05, 0.05, 0.05, 0.05, 0.06, 0.10, 0.06, 0.05, 0.05,
              0.05, 0.05, 0.05, 0.05, 0.05, 0.05, 0.06, 0.08, 0.08]
dcf_230_8 = [-0.54, -0.55, -0.73, -0.67, -0.51, -0.52, -0.25, -0.28, -0.08, 0.20,
             0.18, 0.25, 0.20, 0.42, 0.47, 0.78, 0.85, 0.87, 0.70, 0.66,
             0.41, 0.43, 0.07, -0.12, 0.09, -0.08, -0.58, -0.74, -0.73]
err_230_8 = [0.10, 0.10, 0.10, 0.08, 0.08, 0.08, 0.06, 0.06, 0.06, 0.06,
             0.06, 0.06, 0.06, 0.08, 0.08, 0.08, 0.10, 0.10, 0.08, 0.06,
             0.08, 0.08, 0.06, 0.06, 0.06, 0.06, 0.10, 0.15, 0.18]

# significance levels: green+, red+, blue+, blue-, red-, green-
sig_22 = [[0.79, 0.76, 0.78, 0.77, 0.75, 0.74, 0.74, 0.76, 0.75, 0.74, 0.76],
          [0.58, 0.55, 0.55, 0.54, 0.53, 0.52, 0.52, 0.52, 0.52, 0.51, 0.52],
          [0.17, 0.17, 0.17, 0.16, 0.16, 0.15, 0.16, 0.16, 0.16, 0.16, 0.16],
          [-0.19, -0.17, -0.17, -0.16, -0.15, -0.14, -0.15, -0.15, -0.16, -0.16, -0.17],
          [-0.53, -0.50, -0.53, -0.50, -0.50, -0.49, -0.48, -0.49, -0.49, -0.48, -0.49],
          [-0.73, -0.71, -0.74, -0.72, -0.71, -0.69, -0.69, -0.70, -0.70, -0.71, -0.71]]
sig_11 = [[0.84, 0.83, 0.82, 0.81, 0.79, 0.78, 0.79, 0.82, 0.80, 0.81, 0.79],
          [0.64, 0.60, 0.62, 0.59, 0.58, 0.57, 0.57, 0.59, 0.59, 0.60, 0.60],
          [0.21, 0.21, 0.20, 0.19, 0.20, 0.19, 0.19, 0.20, 0.20, 0.20, 0.20],
          [-0.22, -0.21, -0.22, -0.21, -0.20, -0.19, -0.19, -0.19, -0.20, -0.20, -0.19],
          [-0.60, -0.57, -0.59, -0.60, -0.58, -0.56, -0.55, -0.58, -0.57, -0.58, -0.57],
          [-0.80, -0.78, -0.78, -0.77, -0.79, -0.76, -0.75, -0.77, -0.77, -0.76, -0.79]]
sig_8 = [[0.88, 0.88, 0.88, 0.85, 0.86, 0.84, 0.80, 0.83, 0.84, 0.82, 0.83],
         [0.72, 0.71, 0.70, 0.68, 0.66, 0.64, 0.62, 0.63, 0.64, 0.63, 0.62],
         [0.24, 0.25, 0.24, 0.23, 0.22, 0.21, 0.21, 0.22, 0.22, 0.21, 0.21],
         [-0.26, -0.25, -0.25, -0.25, -0.23, -0.21, -0.20, -0.21, -0.21, -0.20, -0.20],
         [-0.67, -0.65, -0.64, -0.63, -0.62, -0.60, -0.59, -0.60, -0.63, -0.61, -0.62],
         [-0.84, -0.85, -0.84, -0.83, -0.81, -0.79, -0.77, -0.79, -0.80, -0.82, -0.81]]
sig_5 = [[0.82, 0.81, 0.82, 0.80, 0.81, 0.80, 0.79, 0.80, 0.81, 0.80, 0.81],
         [0.63, 0.62, 0.63, 0.61, 0.62, 0.61, 0.60, 0.61, 0.62, 0.61, 0.62],
         [0.22, 0.22, 0.21, 0.21, 0.21, 0.20, 0.20, 0.21, 0.21, 0.21, 0.21],
         [-0.21, -0.21, -0.21, -0.20, -0.20, -0.19, -0.19, -0.20, -0.20, -0.20, -0.21],
         [-0.61, -0.60, -0.61, -0.60, -0.60, -0.59, -0.58, -0.60, -0.60, -0.61, -0.61],
         [-0.81, -0.80, -0.81, -0.80, -0.80, -0.79, -0.78, -0.80, -0.80, -0.81, -0.81]]
sig_2 = [[0.89, 0.89, 0.86, 0.84, 0.80, 0.80, 0.82, 0.81, 0.82, 0.82, 0.83],
         [0.73, 0.70, 0.66, 0.63, 0.58, 0.60, 0.62, 0.61, 0.62, 0.59, 0.62],
         [0.29, 0.27, 0.25, 0.22, 0.19, 0.20, 0.21, 0.20, 0.18, 0.19, 0.19],
         [-0.27, -0.26, -0.24, -0.22, -0.18, -0.20, -0.20, -0.20, -0.21, -0.19, -0.21],
         [-0.74, -0.70, -0.66, -0.65, -0.60, -0.60, -0.62, -0.62, -0.63, -0.60, -0.61],
         [-0.88, -0.88, -0.86, -0.84, -0.82, -0.80, -0.82, -0.83, -0.84, -0.82, -0.81]]
sig_1 = [[0.96, 0.90, 0.88, 0.86, 0.82, 0.82, 0.86, 0.88, 0.86, 0.86, 0.87],
         [0.84, 0.74, 0.72, 0.68, 0.62, 0.64, 0.66, 0.74, 0.72, 0.66, 0.68],
         [0.38, 0.30, 0.25, 0.24, 0.22, 0.22, 0.24, 0.26, 0.25, 0.22, 0.23],
         [-0.36, -0.30, -0.26, -0.24, -0.22, -0.22, -0.24, -0.26, -0.30, -0.24, -0.25],
         [-0.83, -0.74, -0.70, -0.68, -0.62, -0.62, -0.62, -0.70, -0.72, -0.68, -0.68],
         [-0.96, -0.90, -0.88, -0.86, -0.82, -0.82, -0.84, -0.88, -0.90, -0.86, -0.86]]
sig_230_22 = [[0.85, 0.85, 0.84, 0.82, 0.80, 0.77, 0.78, 0.79, 0.80, 0.80, 0.82],
              [0.62, 0.63, 0.63, 0.63, 0.59, 0.58, 0.57, 0.58, 0.59, 0.60, 0.61],
              [0.20, 0.20, 0.20, 0.20, 0.19, 0.18, 0.18, 0.19, 0.19, 0.19, 0.19],
              [-0.20, -0.20, -0.19, -0.19, -0.18, -0.17, -0.16, -0.18, -0.19, -0.20, -0.21],
              [-0.61, -0.60, -0.61, -0.61, -0.58, -0.55, -0.55, -0.56, -0.58, -0.60, -0.61],
              [-0.78, -0.79, -0.80, -0.80, -0.78, -0.75, -0.77, -0.80, -0.80, -0.80, -0.81]]
sig_230_11 = [[0.87, 0.87, 0.88, 0.86, 0.84, 0.83, 0.84, 0.84, 0.85, 0.86, 0.87],
              [0.70, 0.71, 0.72, 0.68, 0.67, 0.65, 0.66, 0.67, 0.67, 0.68, 0.69],
              [0.25, 0.25, 0.26, 0.25, 0.24, 0.22, 0.24, 0.24, 0.24, 0.23, 0.24],
              [-0.24, -0.25, -0.25, -0.23, -0.22, -0.20, -0.21, -0.22, -0.23, -0.24, -0.26],
              [-0.68, -0.68, -0.70, -0.68, -0.66, -0.62, -0.63, -0.65, -0.67, -0.68, -0.70],
              [-0.84, -0.86, -0.86, -0.84, -0.83, -0.80, -0.82, -0.83, -0.84, -0.84, -0.86]]
sig_230_8 = [[0.89, 0.90, 0.92, 0.90, 0.89, 0.87, 0.86, 0.88, 0.89, 0.90, 0.90],
             [0.74, 0.74, 0.79, 0.75, 0.73, 0.71, 0.69, 0.70, 0.71, 0.74, 0.74],
             [0.26, 0.27, 0.32, 0.28, 0.27, 0.26, 0.24, 0.25, 0.26, 0.28, 0.29],
             [-0.27, -0.28, -0.31, -0.29, -0.27, -0.25, -0.23, -0.25, -0.26, -0.26, -0.27],
             [-0.71, -0.73, -0.78, -0.72, -0.70, -0.68, -0.66, -0.68, -0.70, -0.73, -0.74],
             [-0.86, -0.88, -0.91, -0.88, -0.86, -0.84, -0.82, -0.84, -0.86, -0.88, -0.90]]

# peak lag and its uncertainty interval (days)
peaks = {"22": (295, 235, 340), "11": (386, 360, 412), "8": (390, 362, 412),
         "5": (385, 365, 405), "2": (700, 385, 925), "1": (1015, 790, 1155),
         "230_22": (262, 92, 398), "230_11": (275, 196, 410), "230_8": (345, 262, 470)}

# ---------------- layout ----------------
W, H = 1345, 1633
fig = plt.figure(figsize=(W / 100, H / 100), dpi=100)
cols = [(62, 400), (523, 862), (984, 1324)]
rows = [(3, 187), (281, 465), (566, 748), (846, 1028), (1129, 1313), (1405, 1591)]


def make_ax(r, c):
    x0, x1 = cols[c]
    y0, y1 = rows[r]
    return fig.add_axes([x0 / W, 1 - y1 / H, (x1 - x0) / W, (y1 - y0) / H])


def style(ax):
    ax.tick_params(direction="in", length=4, width=1, top=False, right=False)
    for s in ax.spines.values():
        s.set_linewidth(1.2)
        s.set_color("0.2")


def light_panel(ax, a, b, la, lb, xlim, ylim, xstep, ystep, rbox):
    ax.errorbar(a[0], a[1], yerr=a[2], fmt="o", ms=3, color="C0", elinewidth=1.1,
                label=la, zorder=2)
    ax.errorbar(b[0], b[1], yerr=b[2], fmt="o", ms=3, color="C1", elinewidth=1.1,
                label=lb, zorder=3)
    ax.set_xlim(*xlim)
    ax.set_ylim(*ylim)
    ax.xaxis.set_major_locator(MultipleLocator(xstep))
    ax.yaxis.set_major_locator(MultipleLocator(ystep))
    for t in ax.get_xticklabels():
        t.set_rotation(45)
    ax.set_xlabel("MJD")
    ax.set_ylabel("Flux density, Jy")
    ax.legend(loc="upper right", framealpha=0.8, borderaxespad=0.5)
    if rbox:
        ax.text(0.035, 0.965, "$R$: mJy", transform=ax.transAxes, fontsize=8.5,
                va="top", ha="left",
                bbox=dict(boxstyle="round,pad=0.45", fc="white", ec="0.85", lw=0.8))
    style(ax)


sig_colors = ["green", "red", "blue", "blue", "red", "green"]


def dcf_panel(ax, lags, dcf, err, sig_lags, sigs, peak, xlim, ylim, ms):
    p, lo, hi = peak
    ax.grid(True, color="0.78", lw=1.0)
    ax.set_axisbelow(True)
    ax.axvspan(lo, hi, color="#ffcc99", alpha=0.6, lw=0, zorder=1)
    for vals, col in zip(sigs, sig_colors):
        sns.lineplot(x=sig_lags, y=vals, ax=ax, color=col, linestyle="--",
                     linewidth=1.2, legend=False, zorder=3)
    d = np.asarray(dcf)
    e = np.asarray(err)
    ax.fill_between(lags, d - e, d + e, color="C0", alpha=0.5, lw=0, zorder=2)
    sns.lineplot(x=lags, y=dcf, ax=ax, color="k", linestyle="--", linewidth=1.4,
                 marker="o", markersize=ms, markeredgecolor="k",
                 markerfacecolor="k", legend=False, zorder=4)
    ax.axvline(p, color="C1", ls="--", lw=1.5, zorder=5)
    ax.set_xlim(*xlim)
    ax.set_ylim(*ylim)
    ax.xaxis.set_major_locator(MultipleLocator(1000))
    ax.yaxis.set_major_locator(MultipleLocator(0.5))
    ax.set_xlabel("Lag, days")
    ax.set_ylabel("DCF")
    style(ax)


opt = (opt_mjd, opt_flux, opt_err)
lc_xlim = (49314, 61651)
dense_xlim = (-2200, 2200)
sparse_xlim = (-2127, 2127)

# rows 1-2
top = [("22 GHz", (r22_mjd, r22_flux, r22_err), (0.0, 6.5), dcf_22, err_22, sig_22, "22", (-1.025, 0.97)),
       ("11 GHz", (r11_mjd, r11_flux, r11_err), (0.13, 6.5), dcf_11, err_11, sig_11, "11", (-1.054, 0.94)),
       ("8 GHz", (r8_mjd, r8_flux, r8_err), (0.13, 6.5), dcf_8, err_8, sig_8, "8", (-1.147, 1.0))]
for c, (lab, rad, yl, dcf, err, sig, key, dyl) in enumerate(top):
    light_panel(make_ax(0, c), opt, rad, "Optical $R$", lab, lc_xlim, yl, 2500, 2, True)
    dcf_panel(make_ax(1, c), lag_dense, dcf, err, sig_lag_dense, sig, peaks[key],
              dense_xlim, dyl, 3.5)

# rows 3-4
mid = [("5 GHz", (r5_mjd, r5_flux, r5_err), (0.13, 6.5), dcf_5, err_5, sig_5, "5", (-1.05, 0.92)),
       ("2 GHz", (r2_mjd, r2_flux, r2_err), (0.15, 6.53), dcf_2, err_2, sig_2, "2", (-1.17, 1.04)),
       ("1 GHz", (r1_mjd, r1_flux, r1_err), (0.05, 6.52), dcf_1, err_1, sig_1, "1", (-1.07, 1.27))]
for c, (lab, rad, yl, dcf, err, sig, key, dyl) in enumerate(mid):
    light_panel(make_ax(2, c), opt, rad, "Optical $R$", lab, lc_xlim, yl, 2500, 2, True)
    dcf_panel(make_ax(3, c), lag_dense, dcf, err, sig_lag_dense, sig, peaks[key],
              dense_xlim, dyl, 3.5)

# rows 5-6
mm = (r230_mjd, r230_flux, r230_err)
bot = [("22 GHz", (r22_mjd, r22_flux, r22_err), (0.05, 2.23), dcf_230_22, err_230_22, sig_230_22, "230_22", (-0.94, 0.95)),
       ("11 GHz", (r11_mjd, r11_flux, r11_err), (0.08, 1.79), dcf_230_11, err_230_11, sig_230_11, "230_11", (-1.0, 1.1)),
       ("8 GHz", (r8_mjd, r8_flux, r8_err), (0.07, 1.74), dcf_230_8, err_230_8, sig_230_8, "230_8", (-1.0, 1.09))]
for c, (lab, rad, yl, dcf, err, sig, key, dyl) in enumerate(bot):
    light_panel(make_ax(4, c), mm, rad, "230 GHz", lab, (49895, 61570), yl, 2000, 0.5, False)
    dcf_panel(make_ax(5, c), lag_sparse, dcf, err, sig_lag_sparse, sig, peaks[key],
              sparse_xlim, dyl, 3.8)

fig.savefig("out.png", dpi=100)
